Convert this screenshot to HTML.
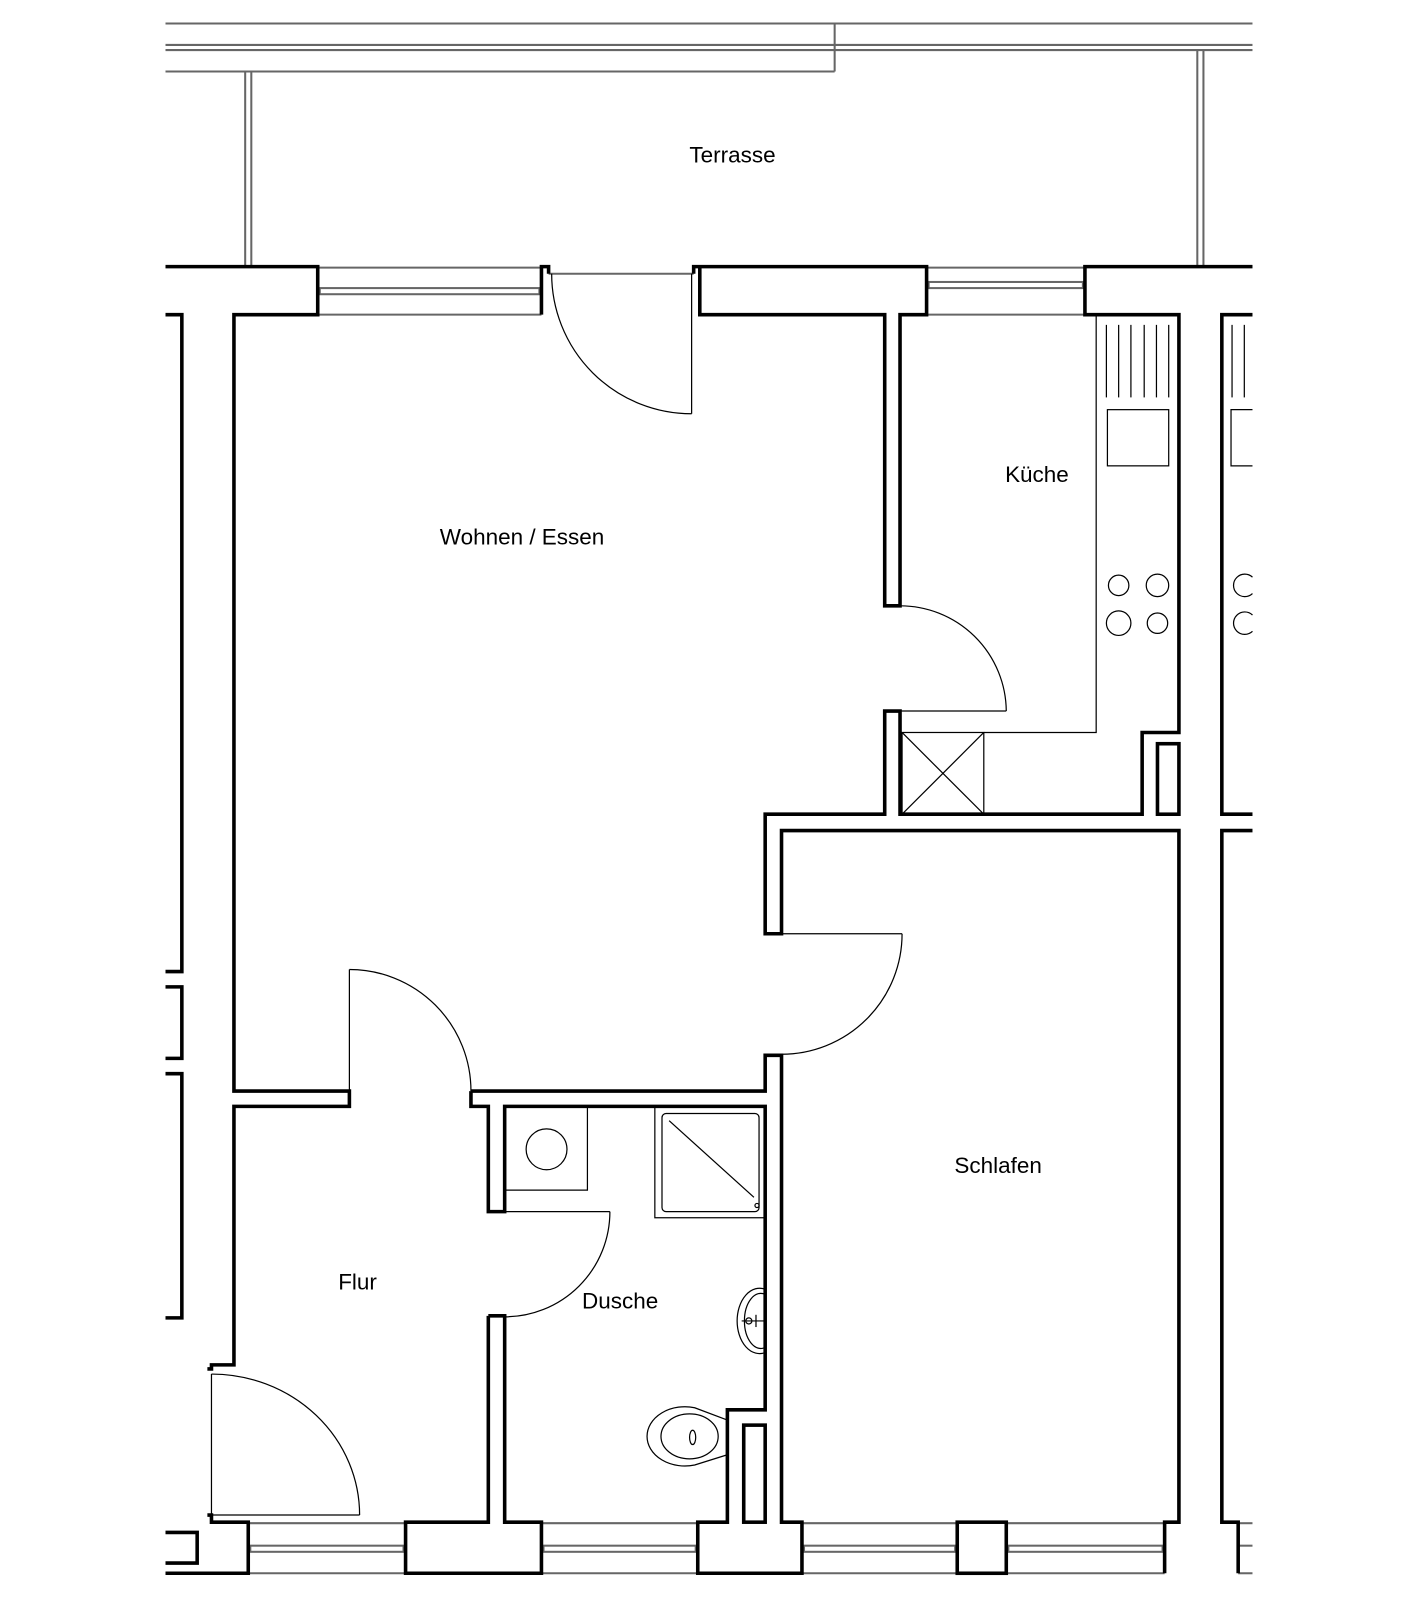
<!DOCTYPE html>
<html><head><meta charset="utf-8"><style>
html,body{margin:0;padding:0;background:#fff;}
svg{display:block}
text{font-family:"Liberation Sans",sans-serif;font-size:22px;fill:#000;text-anchor:middle}
</style></head><body>
<svg width="1410" height="1600" viewBox="0 0 1410 1600" xmlns="http://www.w3.org/2000/svg">
<g transform="scale(1.0216)">
<g fill="none" stroke="#666" stroke-width="2">
<line x1="162" y1="23" x2="1226" y2="23"/>
<line x1="162" y1="44" x2="1226" y2="44"/>
<line x1="162" y1="49" x2="1226" y2="49"/>
<line x1="162" y1="70" x2="817" y2="70"/>
<line x1="817" y1="23" x2="817" y2="70"/>
<line x1="240" y1="70" x2="240" y2="260"/>
<line x1="246" y1="70" x2="246" y2="260"/>
<line x1="1172" y1="49" x2="1172" y2="260"/>
<line x1="1178" y1="49" x2="1178" y2="260"/>
<line x1="311" y1="262" x2="530" y2="262"/>
<line x1="311" y1="308" x2="530" y2="308"/>
<rect x="313" y="282" width="215" height="6"/>
<line x1="907" y1="262" x2="1062" y2="262"/>
<line x1="907" y1="308" x2="1062" y2="308"/>
<rect x="909" y="276" width="151" height="6"/>
<line x1="537" y1="268" x2="679" y2="268"/>
<line x1="243" y1="1491" x2="397" y2="1491"/><line x1="243" y1="1540" x2="397" y2="1540"/><rect x="245" y="1513" width="150" height="6"/>
<line x1="530" y1="1491" x2="683" y2="1491"/><line x1="530" y1="1540" x2="683" y2="1540"/><rect x="532" y="1513" width="149" height="6"/>
<line x1="785" y1="1491" x2="937" y2="1491"/><line x1="785" y1="1540" x2="937" y2="1540"/><rect x="787" y="1513" width="148" height="6"/>
<line x1="985" y1="1491" x2="1140" y2="1491"/><line x1="985" y1="1540" x2="1140" y2="1540"/><rect x="987" y="1513" width="151" height="6"/>
<line x1="1212" y1="1491" x2="1226" y2="1491"/><line x1="1212" y1="1540" x2="1226" y2="1540"/><line x1="1212" y1="1513" x2="1226" y2="1513"/>
</g>
<g fill="none" stroke="#000" stroke-width="3.5">
<polyline points="162,261 311,261 311,308 229,308 229,1068 342,1068 342,1083 229,1083 229,1336 207,1336 207,1340 203,1340"/>
<polyline points="162,308 178,308 178,951 162,951"/>
<polyline points="162,966 178,966 178,1036 162,1036"/>
<polyline points="162,1051 178,1051 178,1290 162,1290"/>
<polyline points="530,308 530,261 537,261 537,268"/>
<polyline points="679,268 679,261 907,261 907,308 881,308 881,593 866,593 866,308 685,308 685,261"/>
<polyline points="1226,261 1062,261 1062,308 1154,308 1154,717 1118,717 1118,797 881,797 881,696 866,696 866,797 749,797 749,914 765,914 765,813 1154,813 1154,1490 1140,1490 1140,1540"/>
<rect x="1133" y="728" width="21" height="69"/>
<polyline points="1226,308 1196,308 1196,797 1226,797"/>
<polyline points="1226,813 1196,813 1196,1490 1212,1490 1212,1540"/>
<polyline points="461,1068 749,1068 749,1033 765,1033 765,1490 785,1490 785,1540 683,1540 683,1490 712,1490 712,1380 749,1380 749,1083 494,1083 494,1186 478,1186 478,1083 461,1083 461,1068"/>
<rect x="728" y="1395" width="21" height="95"/>
<polyline points="478,1288 478,1490 397,1490 397,1540 530,1540 530,1490 494,1490 494,1288 478,1288"/>
<rect x="937" y="1490" width="48" height="50"/>
<polyline points="203,1483 207,1483 207,1490 243,1490 243,1540 162,1540"/>
<polyline points="162,1500 193,1500 193,1530 162,1530"/>
</g>
<g fill="none" stroke="#000" stroke-width="1.2">
<line x1="677" y1="268" x2="677" y2="405"/>
<path d="M540,268 A137,137 0 0 0 677,405"/>
<line x1="881" y1="696" x2="985" y2="696"/>
<path d="M881,593 A104,104 0 0 1 985,696"/>
<line x1="765" y1="914" x2="883" y2="914"/>
<path d="M883,914 A118,118 0 0 1 765,1032"/>
<line x1="342" y1="949" x2="342" y2="1068"/>
<path d="M342,949 A119,119 0 0 1 461,1068"/>
<line x1="494" y1="1186" x2="597" y2="1186"/>
<path d="M597,1186 A103,103 0 0 1 494,1289"/>
<line x1="207" y1="1345" x2="207" y2="1483"/>
<line x1="207" y1="1483" x2="352" y2="1483"/>
<path d="M207,1345 A145,138 0 0 1 352,1483"/>
<polyline points="1073,308 1073,717 963,717"/>
<rect x="883" y="717" width="80" height="80"/>
<line x1="883" y1="717" x2="963" y2="797"/><line x1="963" y1="717" x2="883" y2="797"/>
<line x1="1083" y1="318" x2="1083" y2="389"/><line x1="1095" y1="318" x2="1095" y2="389"/><line x1="1107" y1="318" x2="1107" y2="389"/><line x1="1120" y1="318" x2="1120" y2="389"/><line x1="1132" y1="318" x2="1132" y2="389"/><line x1="1144" y1="318" x2="1144" y2="389"/>
<rect x="1084" y="401" width="60" height="55"/>
<circle cx="1095" cy="573" r="10"/><circle cx="1133" cy="573" r="11"/><circle cx="1095" cy="610" r="12"/><circle cx="1133" cy="610" r="10"/>
<line x1="1206" y1="318" x2="1206" y2="389"/><line x1="1218" y1="318" x2="1218" y2="389"/>
<polyline points="1226,401 1205,401 1205,456 1226,456"/>
<path d="M1226,565 A11,11 0 1 0 1226,581"/><path d="M1226,602 A11,11 0 1 0 1226,618"/>
<polyline points="494,1165 575,1165 575,1083"/>
<ellipse cx="535" cy="1125" rx="20" ry="20"/>
<rect x="641" y="1083" width="108" height="109"/>
<rect x="648" y="1090" width="95" height="96" rx="4"/>
<line x1="655" y1="1097" x2="738" y2="1172"/>
<circle cx="741" cy="1180" r="2"/>
<path d="M749,1262 A22,32 0 1 0 749,1324"/>
<path d="M749,1267 A16,27 0 1 0 749,1319"/>
<circle cx="733" cy="1293" r="3"/><line x1="726" y1="1293" x2="749" y2="1293"/><line x1="740" y1="1287" x2="740" y2="1299"/>
<path d="M712,1390 L680,1378 A37,29 0 1 0 680,1434 L712,1424"/>
<ellipse cx="675" cy="1406" rx="28" ry="22"/>
<ellipse cx="678" cy="1407" rx="3" ry="7"/>
</g>
<text x="717" y="159">Terrasse</text>
<text x="511" y="533">Wohnen / Essen</text>
<text x="1015" y="472">Küche</text>
<text x="977" y="1148">Schlafen</text>
<text x="350" y="1262">Flur</text>
<text x="607" y="1281">Dusche</text>
</g>
</svg>
</body></html>
